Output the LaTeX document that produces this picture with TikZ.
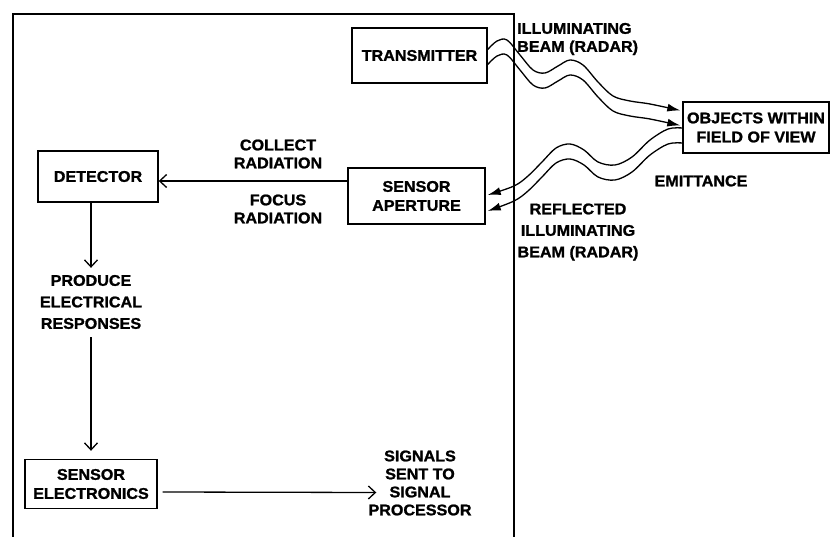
\documentclass[tikz,border=0pt]{standalone}
\usepackage{fontspec}
\setmainfont{Liberation Sans}[FakeStretch=1.04,BoldFeatures={FakeBold=1.3}]
\usetikzlibrary{arrows.meta,calc}
\begin{document}
\begin{tikzpicture}[x=1pt,y=-1pt,
  lab/.style={font=\bfseries\fontsize{15.5}{19}\selectfont, align=center, inner sep=0pt},
  box/.style={draw, line width=1.4pt, lab, inner sep=0pt},
  conn/.style={line width=1.3pt, -{Straight Barb[length=7pt,width=13pt,line width=1.3pt]}},
  wave/.style={line width=1.3pt, -{Latex[length=13pt,width=8pt]}},
]
\useasboundingbox (0,0) rectangle (832,537);
% outer frame
\draw[line width=1.4pt] (13,537) -- (13,14) -- (514,14) -- (514,537);

\node[box, minimum width=135pt, minimum height=55pt] (tx) at (419.5,55.5) {TRANSMITTER};
\node[box, minimum width=137pt, minimum height=56pt] (sa) at (416.5,196) {SENSOR\\APERTURE};
\node[box, minimum width=120pt, minimum height=51pt] (det) at (98,176.5) {DETECTOR};
\node[box, minimum width=132pt, minimum height=49pt] (se) at (91,484) {SENSOR\\ELECTRONICS};
\node[box, minimum width=146pt, minimum height=51pt] (obj) at (756,127.5) {OBJECTS WITHIN\\FIELD OF VIEW};

\node[lab, font=\bfseries\fontsize{15.5}{21.5}\selectfont] (prod) at (91,302) {PRODUCE\\ELECTRICAL\\RESPONSES};
\node[lab, font=\bfseries\fontsize{15.5}{18}\selectfont] (sig) at (420,483) {SIGNALS\\SENT TO\\SIGNAL\\PROCESSOR};
\node[lab, font=\bfseries\fontsize{15.5}{18}\selectfont] (col) at (278,154) {COLLECT\\RADIATION};
\node[lab, font=\bfseries\fontsize{15.5}{18}\selectfont] (foc) at (278,209) {FOCUS\\RADIATION};
\node[lab, align=left, anchor=west, font=\bfseries\fontsize{15.5}{18}\selectfont] (ill) at (517,39) {ILLUMINATING\\BEAM (RADAR)};
\node[lab] (emi) at (701,181) {EMITTANCE};
\node[lab, font=\bfseries\fontsize{15.5}{21.5}\selectfont] (ref) at (578,232) {REFLECTED\\ILLUMINATING\\BEAM (RADAR)};

% straight connectors
\draw[conn] ($(sa.west)+(0,-15)$) -- ($(det.east)+(0,4.5)$);
\draw[conn, shorten >=7pt] ([xshift=-7pt]det.south) -- (prod.north);
\draw[conn, shorten <=8pt, shorten >=8pt] (prod.south) -- (se.north);
\draw[conn] ($(se.east)+(5,8)$) -- ($(sig.west)+(8,9.5)$);

% illuminating beams: transmitter -> objects
\draw[wave] plot[smooth, tension=0.55] coordinates {
  ($(tx.east)+(0,-6)$) (497,41) (507,40) (520,55) (533,70) (545,73) (558,66)
  (570,60) (583,65) (598,82) (613,96) (630,101) (650,104) ($(obj.west)+(-2,-17)$)};
\draw[wave] plot[smooth, tension=0.55] coordinates {
  ($(tx.east)+(0,9)$) (497,56) (507,55) (520,70) (533,85) (545,88) (558,81)
  (570,75) (583,80) (598,97) (613,111) (630,116) (650,119) ($(obj.west)+(-2,-2)$)};
% emittance / reflected beams: objects -> sensor aperture
\draw[wave] plot[smooth, tension=0.55] coordinates {
  ($(obj.west)+(0,0.5)$) (668,129) (650,140) (632,157) (615,165) (598,162) (584,150)
  (570,144) (556,148) (542,162) (528,176) (514,186) ($(sa.east)+(2,-1)$)};
\draw[wave] plot[smooth, tension=0.55] coordinates {
  ($(obj.west)+(0,15.5)$) (668,144) (650,155) (632,172) (615,180) (598,177) (584,165)
  (570,159) (556,163) (542,177) (528,191) (514,201) ($(sa.east)+(2,15)$)};
\end{tikzpicture}
\end{document}
